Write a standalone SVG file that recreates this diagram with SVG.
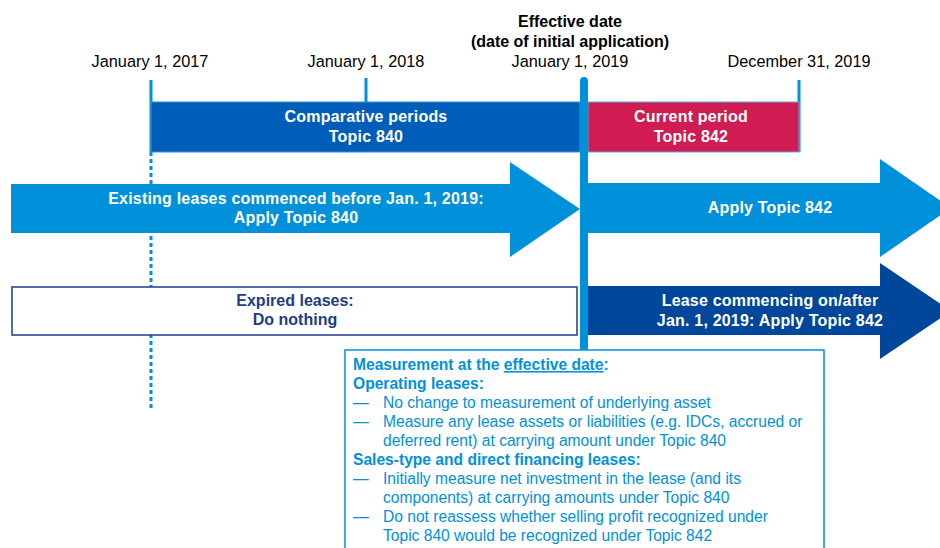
<svg xmlns="http://www.w3.org/2000/svg" width="940" height="548" viewBox="0 0 940 548">
<style>
text{font-family:"Liberation Sans",Arial,sans-serif}
.date{font-size:16.3px;fill:#000;text-anchor:middle}
.hdr{font-size:16px;font-weight:bold;fill:#000;text-anchor:middle}
.wt{font-size:16px;font-weight:bold;fill:#fff;text-anchor:middle;letter-spacing:0.2px}
.nv{font-size:16px;font-weight:bold;fill:#1E3C87;text-anchor:middle}
.mb{font-size:15.6px;fill:#0091DA}
.mbb{font-size:15.6px;font-weight:bold;fill:#0091DA}
.tick{stroke:#0091DA;stroke-width:3;fill:none}
</style>
<rect width="940" height="548" fill="#fff"/>
<g id="connectors">
<line class="tick" x1="151" y1="152" x2="151" y2="408" stroke-dasharray="4 3"/>
<line class="tick" x1="151" y1="80" x2="151" y2="152"/>
<line class="tick" x1="366" y1="78" x2="366" y2="102"/>
<line class="tick" x1="799" y1="80" x2="799" y2="152"/>
</g>
<g id="dates">
<text class="date" x="150" y="67">January 1, 2017</text>
<text class="date" x="366" y="67">January 1, 2018</text>
<text class="hdr" x="570" y="27">Effective date</text>
<text class="hdr" x="570" y="47">(date of initial application)</text>
<text class="date" x="570" y="67">January 1, 2019</text>
<text class="date" x="799" y="67">December 31, 2019</text>
</g>
<g id="comparative">
<rect x="151" y="102" width="429" height="50" fill="#005EB8" stroke="#3E8FD6" stroke-width="1"/>
<text class="wt" x="366" y="122">Comparative periods</text>
<text class="wt" x="366" y="142">Topic 840</text>
</g>
<g id="current">
<rect x="588" y="102" width="211" height="50" fill="#D01C52" stroke="#5BA9E0" stroke-width="1"/>
<text class="wt" x="691" y="122">Current period</text>
<text class="wt" x="691" y="142">Topic 842</text>
</g>
<g id="existing">
<polygon points="11,184 510,184 510,162 580,209 510,257 510,233 11,233" fill="#0091DA"/>
<text class="wt" x="296" y="204">Existing leases commenced before Jan. 1, 2019:</text>
<text class="wt" x="296" y="223">Apply Topic 840</text>
</g>
<g id="apply842">
<polygon points="588,183 880,183 880,159 951,208 880,257 880,233 588,233" fill="#0091DA"/>
<text class="wt" x="770" y="213">Apply Topic 842</text>
</g>
<g id="expired">
<rect x="12" y="287" width="565" height="48" fill="#fff" stroke="#1E3C87" stroke-width="1.5"/>
<text class="nv" x="295" y="306">Expired leases:</text>
<text class="nv" x="295" y="325">Do nothing</text>
</g>
<g id="newleases">
<polygon points="588,286 880,286 880,263 951,311 880,359 880,335 588,335" fill="#00479B"/>
<text class="wt" x="770" y="306">Lease commencing on/after</text>
<text class="wt" x="770" y="326">Jan. 1, 2019: Apply Topic 842</text>
</g>
<g id="effective-line">
<line x1="584" y1="81" x2="584" y2="350" stroke="#0091DA" stroke-width="8" stroke-linecap="butt"/>
<circle cx="584" cy="81" r="4" fill="#0091DA"/>
</g>
<g id="measurement">
<rect x="345" y="350" width="479" height="210" fill="#fff" stroke="#0091DA" stroke-width="1.5"/>
<text class="mbb" x="353" y="370">Measurement at the <tspan text-decoration="underline">effective date</tspan>:</text>
<text class="mbb" x="353" y="389">Operating leases:</text>
<text class="mb" x="353" y="408">—</text>
<text class="mb" x="383" y="408">No change to measurement of underlying asset</text>
<text class="mb" x="353" y="427">—</text>
<text class="mb" x="383" y="427">Measure any lease assets or liabilities (e.g. IDCs, accrued or</text>
<text class="mb" x="383" y="446">deferred rent) at carrying amount under Topic 840</text>
<text class="mbb" x="353" y="465">Sales-type and direct financing leases:</text>
<text class="mb" x="353" y="484">—</text>
<text class="mb" x="383" y="484">Initially measure net investment in the lease (and its</text>
<text class="mb" x="383" y="503">components) at carrying amounts under Topic 840</text>
<text class="mb" x="353" y="522">—</text>
<text class="mb" x="383" y="522">Do not reassess whether selling profit recognized under</text>
<text class="mb" x="383" y="541">Topic 840 would be recognized under Topic 842</text>
</g>
</svg>
